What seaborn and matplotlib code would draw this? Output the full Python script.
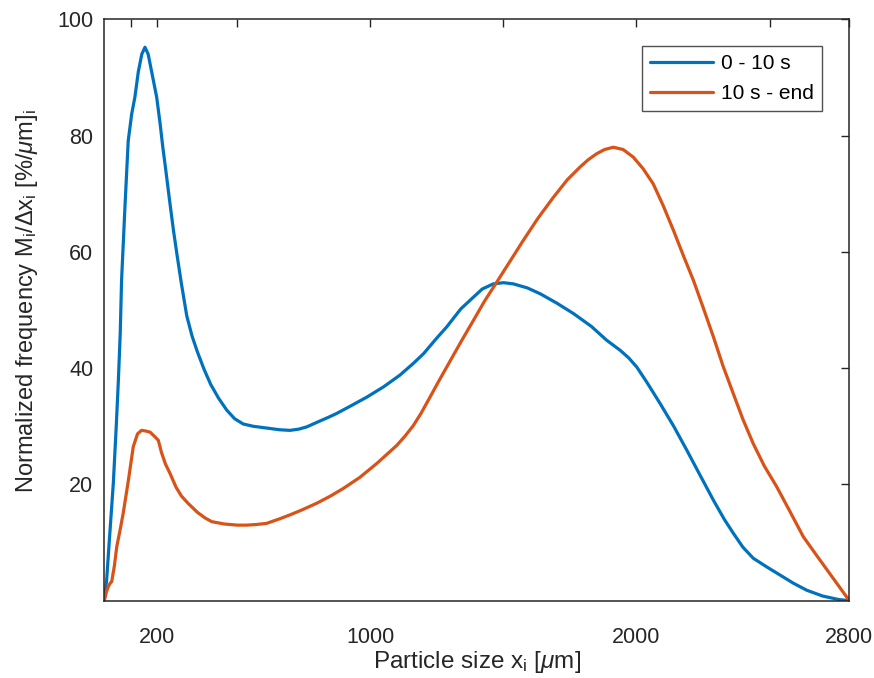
import matplotlib
matplotlib.use("Agg")
import matplotlib.pyplot as plt
import seaborn as sns
import pandas as pd

# Particle size distribution, first 10 s of the run
size_early = [0, 9, 20, 34, 45, 53, 60, 65, 78, 90, 103, 115, 128, 141, 153, 165, 178,
              197, 210, 220, 230, 245, 260, 275, 290, 310, 330, 350, 375, 400, 430,
              460, 490, 522, 560, 610, 660, 698, 730, 761, 800, 840, 873, 930, 986,
              1050, 1111, 1161, 1200, 1250, 1287, 1340, 1387, 1420, 1462, 1500, 1537,
              1590, 1638, 1700, 1763, 1830, 1888, 1938, 1970, 2001, 2040, 2089, 2140,
              2189, 2240, 2289, 2330, 2364, 2400, 2439, 2490, 2540, 2590, 2640, 2700,
              2760, 2800]
freq_early = [0, 3.6, 11.0, 20.2, 30.0, 37.9, 46.0, 55.1, 68.0, 79.1, 83.7, 86.6, 91.0,
              94.0, 95.2, 94.0, 91.0, 86.6, 82.0, 78.0, 74.5, 69.0, 63.7, 59.0, 54.5,
              49.0, 45.5, 42.8, 39.8, 37.2, 34.8, 32.8, 31.3, 30.4, 30.0, 29.7, 29.4,
              29.3, 29.5, 29.9, 30.7, 31.5, 32.2, 33.6, 35.0, 36.8, 38.8, 40.8, 42.5,
              45.2, 47.1, 50.2, 52.2, 53.6, 54.5, 54.7, 54.5, 53.8, 52.8, 51.2, 49.4,
              47.2, 44.8, 43.1, 41.8, 40.2, 37.5, 33.9, 30.0, 25.9, 21.5, 17.3, 14.0,
              11.6, 9.2, 7.3, 5.8, 4.4, 3.0, 1.8, 0.8, 0.2, 0]

# Particle size distribution, from 10 s to the end of the run
size_late = [0, 8, 15, 22, 28, 38, 47, 60, 71, 90, 109, 125, 140, 155, 172, 188, 203,
             215, 230, 247, 270, 290, 316, 350, 380, 404, 450, 500, 535, 570, 610, 660,
             700, 742, 800, 850, 898, 960, 1024, 1099, 1130, 1161, 1190, 1224, 1255,
             1287, 1340, 1387, 1430, 1475, 1525, 1575, 1630, 1688, 1740, 1788, 1820,
             1851, 1880, 1913, 1950, 1988, 2025, 2063, 2100, 2139, 2175, 2214, 2250,
             2289, 2325, 2364, 2400, 2439, 2480, 2527, 2575, 2627, 2680, 2740, 2800]
freq_late = [0, 1.5, 2.4, 3.0, 3.3, 6.0, 9.3, 12.3, 15.0, 20.5, 26.5, 28.7, 29.3, 29.2,
             29.0, 28.3, 27.6, 25.5, 23.5, 21.9, 19.5, 18.0, 16.7, 15.2, 14.2, 13.6,
             13.2, 13.0, 13.0, 13.1, 13.3, 14.1, 14.8, 15.6, 16.8, 18.0, 19.3, 21.2,
             23.6, 26.7, 28.3, 30.1, 32.2, 35.0, 37.6, 40.2, 44.5, 48.2, 51.6, 54.8,
             58.4, 62.0, 65.8, 69.4, 72.4, 74.6, 75.9, 76.9, 77.6, 78.0, 77.6, 76.3,
             74.3, 71.7, 68.0, 63.7, 59.5, 55.1, 50.5, 45.4, 40.4, 35.6, 31.2, 27.0,
             23.2, 19.6, 15.5, 11.0, 7.6, 3.8, 0]

series_labels = ["0 - 10 s", "10 s - end"]
series_colors = ["#0072BD", "#D95319"]

x_ticks = [100, 200, 500, 1000, 1500, 2000, 2500, 2800]
x_ticklabels = ["", "200", "", "1000", "", "2000", "", "2800"]
y_ticks = [20, 40, 60, 80, 100]

df = pd.concat([
    pd.DataFrame({"size": size_early, "freq": freq_early, "period": series_labels[0]}),
    pd.DataFrame({"size": size_late, "freq": freq_late, "period": series_labels[1]}),
], ignore_index=True)

sns.set_theme(style="white")
plt.rcParams["font.family"] = ["Liberation Sans", "DejaVu Sans"]
plt.rcParams["mathtext.fontset"] = "custom"
plt.rcParams["mathtext.rm"] = "Liberation Sans"
plt.rcParams["mathtext.it"] = "Liberation Sans:italic"
plt.rcParams["mathtext.sf"] = "Liberation Sans"

ink = "#262626"
fig = plt.figure(figsize=(8.74, 6.78), dpi=100)
ax = fig.add_axes([0.1193, 0.114, 0.8525, 0.8575])

sns.lineplot(data=df, x="size", y="freq", hue="period",
             palette=dict(zip(series_labels, series_colors)),
             estimator=None, sort=False, linewidth=2.3, ax=ax)

ax.set_xlim(0, 2800)
ax.set_ylim(0, 100)
ax.set_xticks(x_ticks)
ax.set_xticklabels(x_ticklabels)
ax.set_yticks(y_ticks)

ax.tick_params(direction="in", top=True, right=True, length=6, width=1.0,
               color=ink, labelcolor=ink, labelsize=15.5)
ax.tick_params(axis="x", pad=19)
ax.tick_params(axis="y", pad=8)
for sp in ax.spines.values():
    sp.set_visible(True)
    sp.set_color(ink)
    sp.set_linewidth(1.1)

ax.set_xlabel(r"Particle size x$_{\mathrm{i}}$ [$\mu$m]", fontsize=17.5, color=ink, labelpad=1)
ax.set_ylabel(r"Normalized frequency M$_{\mathrm{i}}$/$\Delta$x$_{\mathrm{i}}$ [%/$\mu$m]$_{\mathrm{i}}$",
              fontsize=17, color=ink)
ax.yaxis.set_label_coords(-0.086, 0.515)

leg = ax.legend(loc="upper right", bbox_to_anchor=(0.9635, 0.954), fontsize=15,
                frameon=True, fancybox=False, handlelength=3.0, handletextpad=0.4,
                borderpad=0.4, labelspacing=0.5, borderaxespad=0)
leg.get_frame().set_edgecolor(ink)
leg.get_frame().set_linewidth(1.0)
for txt in leg.get_texts():
    txt.set_color("black")

fig.savefig("out.png", dpi=100)
